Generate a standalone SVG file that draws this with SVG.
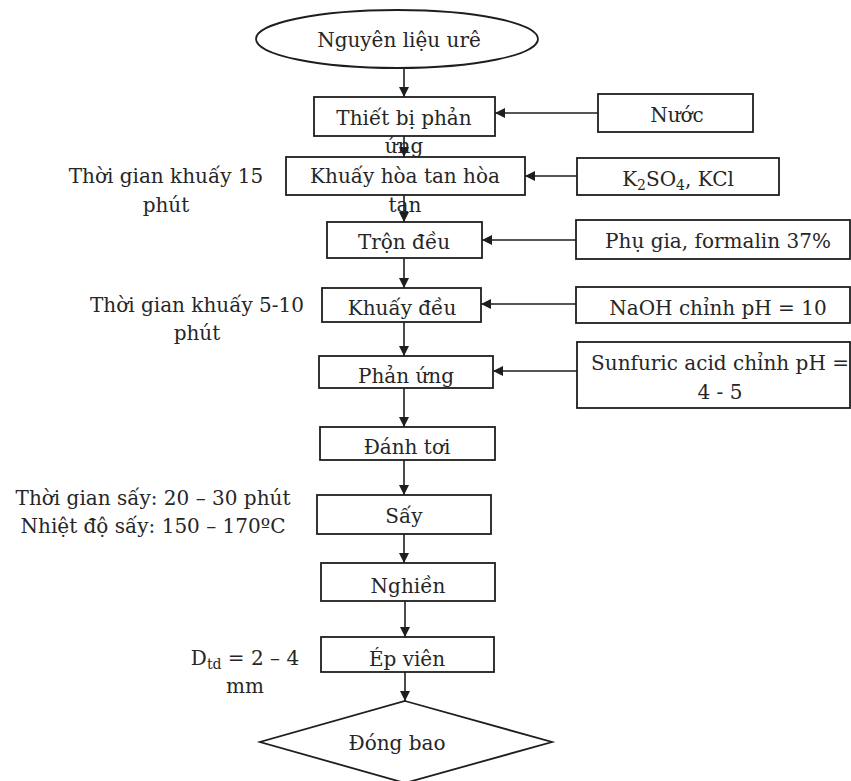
<svg xmlns="http://www.w3.org/2000/svg" width="851" height="781" viewBox="0 0 851 781">
<style>
  .shape { fill: #ffffff; stroke: #1e1e1e; stroke-width: 1.8; }
  .t { font-family: "DejaVu Serif", "Liberation Serif", serif; font-size: 20px; fill: #262626; text-anchor: middle; }
  .conn { stroke: #1e1e1e; stroke-width: 1.6; fill: none; marker-end: url(#ah); }
</style>
<defs>
  <marker id="ah" markerUnits="userSpaceOnUse" markerWidth="11" markerHeight="10" refX="10" refY="5" orient="auto">
    <path d="M0,0 L10,5 L0,10 z" fill="#1e1e1e"/>
  </marker>
</defs>
<rect width="851" height="781" fill="#ffffff"/>

<g id="n-nguyen-lieu">
  <ellipse class="shape" cx="397" cy="39" rx="141" ry="29"/>
  <text class="t" x="399" y="47">Nguyên liệu urê</text>
</g>
<g id="n-thiet-bi">
  <rect class="shape" x="314" y="97" width="181" height="39"/>
  <text class="t" x="404" y="125">Thiết bị phản</text>
  <text class="t" x="404" y="153">ứng</text>
</g>
<g id="n-nuoc">
  <rect class="shape" x="598" y="94" width="155" height="38"/>
  <text class="t" x="677" y="122">Nước</text>
</g>
<g id="n-khuay-hoa-tan">
  <rect class="shape" x="286" y="157" width="239" height="38"/>
  <text class="t" x="405" y="183">Khuấy hòa tan hòa</text>
  <text class="t" x="405" y="212">tan</text>
</g>
<g id="n-k2so4">
  <rect class="shape" x="577" y="158" width="202" height="37"/>
  <text class="t" x="678" y="186">K<tspan font-size="14" dy="4">2</tspan><tspan dy="-4">SO</tspan><tspan font-size="14" dy="4">4</tspan><tspan dy="-4">, KCl</tspan></text>
</g>
<g id="lbl-khuay-15">
  <text class="t" x="166" y="183">Thời gian khuấy 15</text>
  <text class="t" x="166" y="212">phút</text>
</g>
<g id="n-tron-deu">
  <rect class="shape" x="327" y="222" width="155" height="36"/>
  <text class="t" x="404" y="249">Trộn đều</text>
</g>
<g id="n-phu-gia">
  <rect class="shape" x="576" y="220" width="274" height="39"/>
  <text class="t" x="718" y="248">Phụ gia, formalin 37%</text>
</g>
<g id="n-khuay-deu">
  <rect class="shape" x="322" y="288" width="159" height="34"/>
  <text class="t" x="402" y="315">Khuấy đều</text>
</g>
<g id="n-naoh">
  <rect class="shape" x="576" y="287" width="274" height="36"/>
  <text class="t" x="718" y="315">NaOH chỉnh pH = 10</text>
</g>
<g id="lbl-khuay-5-10">
  <text class="t" x="197" y="312">Thời gian khuấy 5-10</text>
  <text class="t" x="197" y="340">phút</text>
</g>
<g id="n-phan-ung">
  <rect class="shape" x="319" y="356" width="174" height="32"/>
  <text class="t" x="406" y="383">Phản ứng</text>
</g>
<g id="n-sunfuric">
  <rect class="shape" x="577" y="342" width="273" height="66"/>
  <text class="t" x="720" y="370">Sunfuric acid chỉnh pH =</text>
  <text class="t" x="720" y="399">4 - 5</text>
</g>
<g id="n-danh-toi">
  <rect class="shape" x="320" y="427" width="175" height="33"/>
  <text class="t" x="407" y="454">Đánh tơi</text>
</g>
<g id="n-say">
  <rect class="shape" x="317" y="495" width="174" height="39"/>
  <text class="t" x="404" y="523">Sấy</text>
</g>
<g id="lbl-say">
  <text class="t" x="153" y="505">Thời gian sấy: 20 – 30 phút</text>
  <text class="t" x="153" y="533">Nhiệt độ sấy: 150 – 170ºC</text>
</g>
<g id="n-nghien">
  <rect class="shape" x="321" y="563" width="174" height="38"/>
  <text class="t" x="408" y="593">Nghiền</text>
</g>
<g id="n-ep-vien">
  <rect class="shape" x="321" y="637" width="173" height="35"/>
  <text class="t" x="407" y="666">Ép viên</text>
</g>
<g id="lbl-dtd">
  <text class="t" x="245" y="665">D<tspan font-size="14" dy="4">td</tspan><tspan dy="-4"> = 2 – 4</tspan></text>
  <text class="t" x="245" y="693">mm</text>
</g>
<g id="n-dong-bao">
  <polygon class="shape" points="405,701 552,742 405,783 260,742"/>
  <text class="t" x="397" y="750">Đóng bao</text>
</g>

<g id="connectors">
  <line class="conn" x1="404" y1="68" x2="404" y2="97"/>
  <line class="conn" x1="404" y1="136" x2="404" y2="157"/>
  <line class="conn" x1="404" y1="195" x2="404" y2="222"/>
  <line class="conn" x1="404" y1="258" x2="404" y2="288"/>
  <line class="conn" x1="404" y1="322" x2="404" y2="356"/>
  <line class="conn" x1="404" y1="388" x2="404" y2="427"/>
  <line class="conn" x1="404" y1="460" x2="404" y2="495"/>
  <line class="conn" x1="404" y1="534" x2="404" y2="563"/>
  <line class="conn" x1="405" y1="601" x2="405" y2="637"/>
  <line class="conn" x1="405" y1="672" x2="405" y2="701"/>
  <line class="conn" x1="598" y1="113" x2="495" y2="113"/>
  <line class="conn" x1="577" y1="176" x2="525" y2="176"/>
  <line class="conn" x1="576" y1="240" x2="482" y2="240"/>
  <line class="conn" x1="576" y1="304" x2="481" y2="304"/>
  <line class="conn" x1="577" y1="371" x2="493" y2="371"/>
</g>
</svg>
